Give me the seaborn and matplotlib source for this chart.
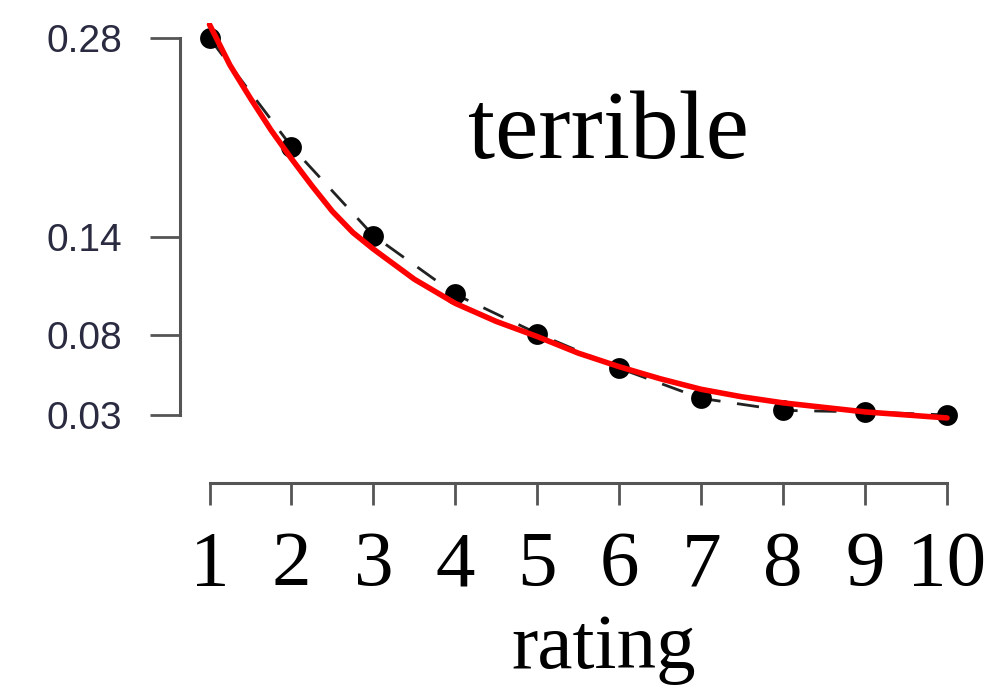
import numpy as np
import pandas as pd
import matplotlib
matplotlib.use("Agg")
import matplotlib.pyplot as plt
import seaborn as sns

# ---- data ----
ratings = [1, 2, 3, 4, 5, 6, 7, 8, 9, 10]
proportion = [0.280, 0.208, 0.149, 0.110, 0.084, 0.061, 0.041, 0.033, 0.032, 0.030]

fit_x = [1.0, 1.25, 1.5, 1.75, 2.0, 2.25, 2.5, 2.75, 3.0, 3.5, 4.0, 4.5, 5.0, 5.5,
         6.0, 6.5, 7.0, 7.5, 8.0, 8.5, 9.0, 9.5, 10.0]
fit_y = [0.289, 0.262, 0.240, 0.219, 0.200, 0.182, 0.165, 0.151, 0.140, 0.120, 0.104,
         0.092, 0.082, 0.071, 0.062, 0.054, 0.047, 0.042, 0.038, 0.035, 0.032, 0.030, 0.028]

ytick_vals = [0.280, 0.148, 0.083, 0.030]
ytick_labels = ["0.28", "0.14", "0.08", "0.03"]
xtick_labels = [str(r) for r in ratings]
panel_title = "terrible"
x_label = "rating"

pts = pd.DataFrame({"rating": ratings, "p": proportion})
fit = pd.DataFrame({"rating": fit_x, "p": fit_y})

sns.set_theme(style="white")
plt.rcParams["font.family"] = ["Liberation Serif", "DejaVu Serif"]
plt.rcParams["text.color"] = "black"
plt.rcParams["axes.labelcolor"] = "black"
plt.rcParams["xtick.color"] = "black"

W, H = 1004, 687
fig = plt.figure(figsize=(W / 100, H / 100), dpi=100)
# plot region in pixels: x 180..976.5, y 23..430
ax = fig.add_axes([180 / W, 1 - 430 / H, 796.5 / W, 407 / H])
ax.set_xlim(0.64, 10.36)
ax.set_ylim(0.02, 0.29)

sns.lineplot(data=pts, x="rating", y="p", ax=ax, color="#222222", lw=2,
             dashes=False, estimator=None, sort=False)
ax.lines[-1].set_dashes((8, 6))
sns.scatterplot(data=pts, x="rating", y="p", ax=ax, color="black", s=15 ** 2,
                edgecolor="black", linewidth=0, zorder=3, clip_on=False)
sns.lineplot(data=fit, x="rating", y="p", ax=ax, color="#ff0000", lw=4,
             estimator=None, sort=False, zorder=4)
ax.lines[-1].set_solid_joinstyle("round")
ax.lines[-1].set_solid_capstyle("round")

for s in ["top", "right"]:
    ax.spines[s].set_visible(False)
axis_col = "#555555"
ax.spines["left"].set_bounds(0.03, 0.28)
ax.spines["left"].set_color(axis_col)
ax.spines["left"].set_linewidth(2.2)
ax.spines["bottom"].set_bounds(1, 10)
ax.spines["bottom"].set_position(("outward", 38))
ax.spines["bottom"].set_color(axis_col)
ax.spines["bottom"].set_linewidth(2.2)

ax.set_xticks(ratings)
ax.set_xticklabels(xtick_labels)
ax.set_yticks(ytick_vals)
ax.set_yticklabels(ytick_labels)
ax.tick_params(axis="x", direction="out", length=15.5, width=2, color=axis_col,
               pad=19, labelsize=57, bottom=True, labelcolor="black")
ax.tick_params(axis="y", direction="out", length=21.5, width=2, color=axis_col,
               pad=20, labelsize=28, left=True, labelcolor="#2a2a40")
for lab in ax.get_yticklabels():
    lab.set_family(["Liberation Sans", "DejaVu Sans"])

ax.set_xlabel(x_label, fontsize=57, color="black")
ax.xaxis.set_label_coords((604 - 180) / 796.5, (430 - 668) / 407)
ax.xaxis.label.set_va("baseline")
ax.set_ylabel("")

ax.text((608 - 180) / 796.5, (430 - 158) / 407, panel_title, transform=ax.transAxes,
        ha="center", va="baseline", fontsize=70, color="black")

fig.savefig("out.png", dpi=100)
